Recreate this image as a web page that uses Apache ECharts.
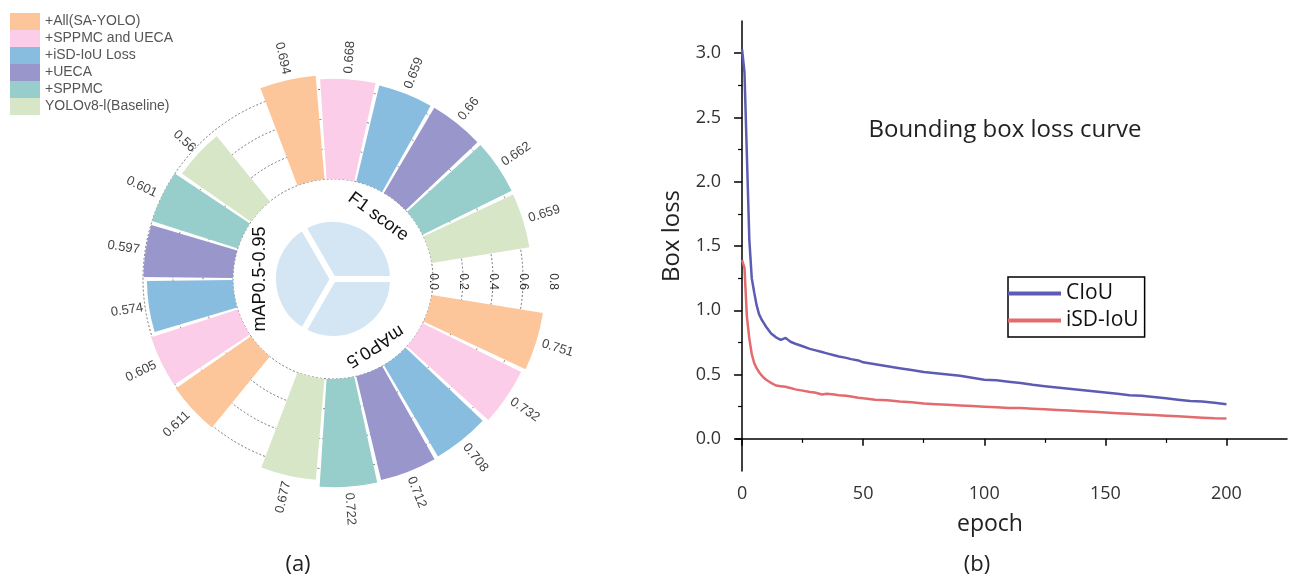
<!DOCTYPE html>
<html><head><meta charset="utf-8">
<script src="https://cdn.jsdelivr.net/npm/echarts@6/dist/echarts.min.js"></script>
<style>html,body{margin:0;padding:0;background:#fff}#c{width:1295px;height:581px}</style>
</head><body><div id="c"></div>
<script>
// ---------- data: panel (a) ----------
const models = ['+All(SA-YOLO)', '+SPPMC and UECA', '+iSD-IoU Loss', '+UECA', '+SPPMC', 'YOLOv8-l(Baseline)'];
const modelColors = ['#fcc59a', '#fbcde8', '#88bde0', '#9996cc', '#97cecb', '#d6e6c6'];
const metricNames = ['mAP0.5', 'mAP0.5-0.95', 'F1 score'];
const map50Values = [0.751, 0.732, 0.708, 0.712, 0.722, 0.677];
const map5095Values = [0.611, 0.605, 0.574, 0.597, 0.601, 0.56];
const f1Values = [0.694, 0.668, 0.659, 0.66, 0.662, 0.659];
const radialTicks = [0, 0.2, 0.4, 0.6, 0.8];

// ---------- data: panel (b) ----------
const epochs = [0,1,2,3,4,5,6,7,8,9,10,12,14,16,18,19,20,22,25,28,30,33,35,38,40,43,45,48,50,
  55,60,65,70,75,80,85,90,95,100,105,110,115,120,125,130,135,140,145,150,155,160,165,170,175,180,185,190,195,200];
const lossCIoU = [3.03,2.85,2.20,1.55,1.25,1.14,1.04,0.97,0.93,0.90,0.87,0.82,0.79,0.77,0.785,0.77,0.755,
  0.74,0.72,0.70,0.69,0.675,0.665,0.65,0.64,0.63,0.62,0.61,0.595,
  0.58,0.565,0.55,0.535,0.52,0.51,0.50,0.49,0.475,0.46,
  0.455,0.445,0.435,0.42,0.41,0.40,0.39,0.38,0.37,0.36,
  0.35,0.34,0.335,0.325,0.315,0.305,0.295,0.29,0.28,0.27];
const lossISD = [1.39,1.33,0.95,0.78,0.66,0.59,0.55,0.52,0.495,0.475,0.46,0.435,0.415,0.41,0.405,0.40,0.395,
  0.385,0.375,0.365,0.36,0.345,0.35,0.345,0.34,0.335,0.33,0.32,0.315,
  0.305,0.30,0.29,0.285,0.275,0.27,0.265,0.26,0.255,0.25,
  0.245,0.24,0.24,0.235,0.23,0.225,0.22,0.215,0.21,0.205,
  0.20,0.195,0.19,0.185,0.18,0.175,0.17,0.165,0.16,0.158];
const xMajorTicks = [0, 50, 100, 150, 200];
const xMinorTicks = [25, 75, 125, 175];
const yMajorTicks = [0, 0.5, 1.0, 1.5, 2.0, 2.5, 3.0];
const yMinorTicks = [0.25, 0.75, 1.25, 1.75, 2.25, 2.75];

// ---------- layout ----------
const CX = 333, CY = 279, R0 = 100, R1 = 220;
const NSLOT = 21, SLOT = 360 / NSLOT;
const groupStart = [1, 8, 15];             // slot index of first bar of each metric group
const groupValues = [map50Values, map5095Values, f1Values];
const slots = Array.from({length: NSLOT}, (_, i) => 's' + i);

const barSeries = models.map((name, m) => {
  const data = new Array(NSLOT).fill(null);
  groupValues.forEach((vals, g) => { data[groupStart[g] + m] = vals[m]; });
  return {
    type: 'bar', name, coordinateSystem: 'polar', polarIndex: 0,
    data, barGap: '-100%', barCategoryGap: '7%',
    itemStyle: {color: modelColors[m]}, silent: true, z: 2
  };
});

const labelData = [];
groupValues.forEach((vals, g) => vals.forEach((v, m) => labelData.push([v, groupStart[g] + m])));

const labelSeries = {
  type: 'custom', coordinateSystem: 'polar', polarIndex: 0, silent: true, z: 5,
  data: labelData,
  renderItem: function (params, api) {
    const v = api.value(0), c = api.value(1);
    const p1 = api.coord([v, c]);
    const p0 = api.coord([0, c]);
    const dx = p1[0] - p0[0], dy = p1[1] - p0[1];
    const len = Math.sqrt(dx * dx + dy * dy) || 1;
    const ux = dx / len, uy = dy / len;
    const x = p1[0] + ux * 6, y = p1[1] + uy * 6;
    let phi = Math.atan2(-dy, dx) * 180 / Math.PI;
    let rot, align;
    if (phi >= -90 && phi <= 90) { rot = phi; align = 'left'; }
    else { rot = phi > 0 ? phi - 180 : phi + 180; align = 'right'; }
    return {
      type: 'text', x, y, rotation: rot * Math.PI / 180,
      style: {text: String(v), align, verticalAlign: 'middle', fontSize: 13,
        fontFamily: 'Liberation Sans, Arial, sans-serif', fill: '#444'}
    };
  }
};

function polarText(text, theta, r, size) {
  const t = theta * Math.PI / 180;
  return {
    type: 'text', x: CX + r * Math.sin(t), y: CY - r * Math.cos(t),
    rotation: -t, z: 10,
    style: {text, align: 'center', verticalAlign: 'middle', fontSize: size,
      fontFamily: 'Liberation Sans, Arial, sans-serif', fill: '#111'}
  };
}

const chart = echarts.init(document.getElementById('c'));
chart.setOption({
  animation: false,
  backgroundColor: '#fff',
  legend: [
    {data: models, orient: 'vertical', left: 10, top: 13, padding: 0, icon: 'rect',
      itemWidth: 30, itemHeight: 17, itemGap: 0, selectedMode: false,
      textStyle: {fontSize: 14, color: '#555', fontFamily: 'Liberation Sans, Arial, sans-serif'}},
    {data: ['CIoU', 'iSD-IoU'], orient: 'vertical', left: 1008, top: 277, icon: 'rect',
      itemWidth: 53, itemHeight: 4, itemGap: 2, padding: [4, 6, 4, 0], selectedMode: false,
      borderColor: '#000', borderWidth: 1.5,
      textStyle: {fontSize: 21, lineHeight: 25, color: '#111', fontFamily: 'Open Sans, sans-serif'}}
  ],
  polar: [
    {center: [CX, CY], radius: [R0, R1]},
    {center: [CX, CY], radius: [R0, R1]}
  ],
  angleAxis: [
    {polarIndex: 0, type: 'category', data: slots, startAngle: SLOT / 2, clockwise: true, show: false},
    {polarIndex: 1, type: 'value', startAngle: 0, min: 0, max: 360, show: false}
  ],
  radiusAxis: [
    {polarIndex: 0, type: 'value', min: 0, max: 0.8, show: false},
    {polarIndex: 1, type: 'value', min: 0, max: 0.8, interval: 0.2, z: 1,
      axisLine: {show: false}, axisTick: {show: false},
      axisLabel: {rotate: -90, margin: -11, fontSize: 12, color: '#333',
        fontFamily: 'Liberation Sans, Arial, sans-serif', formatter: v => v.toFixed(1)},
      splitLine: {show: true, lineStyle: {type: [2, 2], width: 1,
        color: ['#777', '#777', '#777', '#777', 'rgba(0,0,0,0)']}}}
  ],
  grid: {left: 736, top: 21, width: 551, height: 450},
  xAxis: [
    {type: 'value', min: -2.5, max: 225, position: 'bottom',
      axisLine: {show: true, lineStyle: {color: '#000', width: 1.5}},
      axisTick: {show: true, customValues: xMajorTicks, length: 7, lineStyle: {color: '#000', width: 1.5}},
      axisLabel: {customValues: xMajorTicks, fontSize: 18, color: '#333', margin: 14, fontFamily: 'Open Sans, sans-serif'},
      splitLine: {show: false}},
    {type: 'value', min: -2.5, max: 225, position: 'bottom',
      axisLine: {show: false},
      axisTick: {show: true, customValues: xMinorTicks, length: 4, lineStyle: {color: '#000', width: 1.2}},
      axisLabel: {show: false}, splitLine: {show: false}}
  ],
  yAxis: [
    {type: 'value', min: -0.25, max: 3.25, position: 'left',
      axisLine: {show: true, lineStyle: {color: '#000', width: 1.5}},
      axisTick: {show: true, customValues: yMajorTicks, length: 8, lineStyle: {color: '#000', width: 1.5}},
      axisLabel: {customValues: yMajorTicks, fontSize: 18, color: '#333', margin: 15,
        fontFamily: 'Open Sans, sans-serif', formatter: v => v.toFixed(1)},
      splitLine: {show: false}},
    {type: 'value', min: -0.25, max: 3.25, position: 'left', offset: 0,
      axisLine: {show: false},
      axisTick: {show: true, customValues: yMinorTicks, length: 4, lineStyle: {color: '#000', width: 1.2}},
      axisLabel: {show: false}, splitLine: {show: false}}
  ],
  series: [
    {type: 'pie', center: [CX, CY], radius: [0, 60], startAngle: 0, clockwise: true, silent: true, z: 1,
      label: {show: false}, labelLine: {show: false}, emphasis: {disabled: true},
      itemStyle: {color: '#d4e6f3', borderColor: '#fff', borderWidth: 6},
      data: metricNames.map(n => ({name: n, value: 1}))},
    ...barSeries,
    labelSeries,
    {type: 'line', name: 'CIoU', xAxisIndex: 0, yAxisIndex: 0, showSymbol: false, z: 3,
      data: epochs.map((e, i) => [e, lossCIoU[i]]),
      lineStyle: {color: '#5c5cb4', width: 2.5}, itemStyle: {color: '#5c5cb4'}},
    {type: 'line', name: 'iSD-IoU', xAxisIndex: 0, yAxisIndex: 0, showSymbol: false, z: 3,
      data: epochs.map((e, i) => [e, lossISD[i]]),
      lineStyle: {color: '#e26b6e', width: 2.5}, itemStyle: {color: '#e26b6e'}}
  ],
  graphic: [
    polarText('F1 score', 36, 77, 18),
    polarText('mAP0.5', 148, 79, 18),
    polarText('mAP0.5-0.95', 270, 73, 18),
    {type: 'text', x: 1005, y: 130, style: {text: 'Bounding box loss curve', align: 'center', verticalAlign: 'middle',
      fontSize: 24, fontFamily: 'Open Sans, sans-serif', fill: '#222'}},
    {type: 'text', x: 672, y: 236, rotation: Math.PI / 2, style: {text: 'Box loss', align: 'center', verticalAlign: 'middle',
      fontSize: 24, fontFamily: 'Open Sans, sans-serif', fill: '#222'}},
    {type: 'text', x: 990, y: 524, style: {text: 'epoch', align: 'center', verticalAlign: 'middle',
      fontSize: 23, fontFamily: 'Open Sans, sans-serif', fill: '#222'}},
    {type: 'text', x: 298, y: 565, style: {text: '(a)', align: 'center', verticalAlign: 'middle',
      fontSize: 22, fontFamily: 'Open Sans, sans-serif', fill: '#222'}},
    {type: 'text', x: 977, y: 565, style: {text: '(b)', align: 'center', verticalAlign: 'middle',
      fontSize: 22, fontFamily: 'Open Sans, sans-serif', fill: '#222'}}
  ]
});
</script></body></html>
